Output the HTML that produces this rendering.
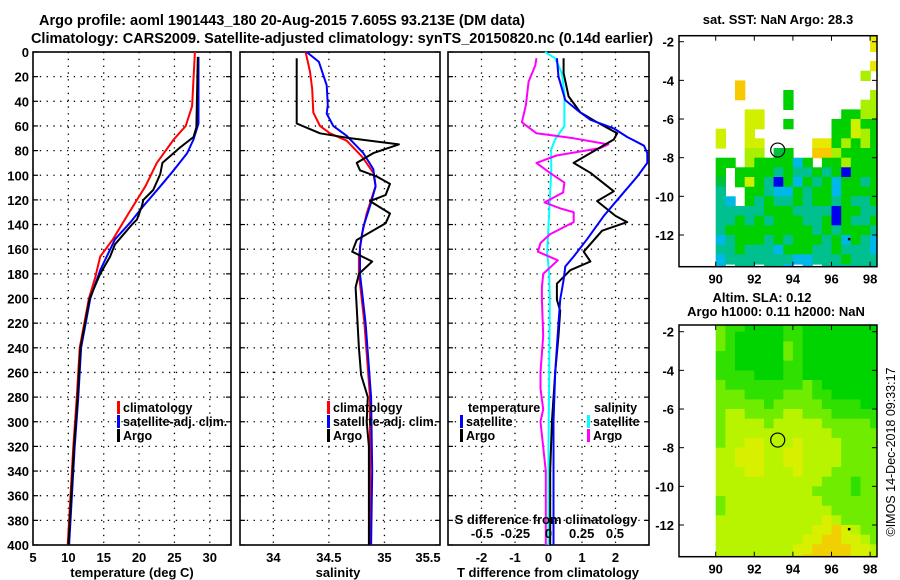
<!DOCTYPE html>
<html><head><meta charset="utf-8"><style>
body{margin:0;background:#fff}
svg{display:block}
text{font-family:"Liberation Sans",sans-serif;font-weight:bold;fill:#000}
</style></head><body>
<svg id="fig" width="900" height="580" viewBox="0 0 900 580" xmlns="http://www.w3.org/2000/svg">
<text x="282" y="25" font-size="14.5" text-anchor="middle">Argo profile: aoml 1901443_180 20-Aug-2015 7.605S 93.213E (DM data)</text>
<text x="342" y="43" font-size="14.5" text-anchor="middle">Climatology: CARS2009. Satellite-adjusted climatology: synTS_20150820.nc (0.14d earlier)</text>
<text x="778" y="24" font-size="13" text-anchor="middle">sat. SST: NaN Argo: 28.3</text>
<text x="762" y="302" font-size="13" text-anchor="middle">Altim. SLA: 0.12</text>
<text x="776" y="316" font-size="13" text-anchor="middle">Argo h1000: 0.11 h2000: NaN</text>
<text transform="translate(895,452) rotate(-90)" font-size="12.5" text-anchor="middle" style="font-weight:normal">©IMOS 14-Dec-2018 09:33:17</text>
<g id="layer"></g>
</svg>
<script>
// ---------- data ----------
const depthTicks = [0,20,40,60,80,100,120,140,160,180,200,220,240,260,280,300,320,340,360,380,400];
const tempTicks = [5,10,15,20,25,30];
const salTicks = [34,34.5,35,35.5];
const tdiffTicks = [-2,-1,0,1,2];
const sdiffTicks = [-0.5,-0.25,0,0.25,0.5];
const sdiffTickLabels = ["-0.5","-0.25","0","0.25","0.5"];

const climTempDepth = [0,44,60,71,90,109,131,152,166,183,200,240,280,320,360,400];
const climTemp      = [27.9,27.5,26.6,24.9,22.5,20.9,18.5,16.3,14.5,13.8,12.9,11.6,11.2,10.7,10.3,9.9];
const satTempDepth  = [4,58,71,82,96,109,125,138,152,177,200,240,280,320,360,400];
const satTemp       = [28.4,28.4,27.7,26.8,24.9,23.0,20.6,18.8,16.6,14.5,13.1,11.8,11.4,10.9,10.5,10.1];
const argoTempDepth = [4,61,69,77,90,99,112,120,125,136,140,156,166,180,200,240,280,320,360,400];
const argoTemp      = [28.3,28.1,27.7,25.9,23.3,23.0,22.0,20.6,20.4,19.7,19.0,16.6,15.9,14.5,13.0,11.7,11.3,10.8,10.4,10.0];

const climSalDepth = [0,16,30,49,60,66,72,85,98,109,120,131,147,166,180,220,280,340,400];
const climSal      = [34.29,34.33,34.35,34.36,34.42,34.51,34.66,34.80,34.90,34.92,34.88,34.84,34.80,34.77,34.77,34.82,34.87,34.87,34.87];
const satSalDepth  = [0,8,27,43,50,60,68,82,95,109,125,142,158,180,220,280,340,400];
const satSal       = [34.30,34.41,34.48,34.49,34.48,34.54,34.66,34.81,34.90,34.92,34.87,34.81,34.78,34.78,34.83,34.88,34.89,34.88];
const argoSalDepth = [5,58,66,69.5,75,82,90,96,101,107,116,121,131,139,152.5,162,170,180,191,207,240,262,280,300,320,400];
const argoSal      = [34.21,34.21,34.42,34.66,35.13,34.90,34.75,34.78,34.93,35.05,35.01,34.87,35.05,35.01,34.75,34.71,34.89,34.77,34.74,34.75,34.77,34.79,34.85,34.84,34.86,34.86];

const argoTdiffDepth = [5,17,36,49,57,66,71,90,98,113,121,133,138,145,162,170,177,188,201,210,230,260,300,340,400];
const argoTdiff      = [0.45,0.45,0.6,0.95,1.45,2.05,1.95,0.75,1.25,1.95,1.45,2.0,2.35,1.6,1.05,1.25,0.65,0.25,0.25,0.35,0.3,0.2,0.1,0.05,0.05];
const satTdiffDepth  = [5,20,39,47,55,62,69,76,82,90,101,117,133,152,166,174,185,201,220,260,300,400];
const satTdiff       = [0.25,0.3,0.5,0.85,1.25,1.95,2.35,2.85,2.95,2.95,2.65,2.15,1.65,1.15,0.75,0.5,0.45,0.35,0.3,0.2,0.15,0.15];
const satSdiffDepth  = [0,5,17,33,60,71,79,98,120,141,163,180,201,260,320,400];
const satSdiff       = [-0.026,0.05,0.1,0.12,0.12,0.05,0.02,0.02,0.01,0,-0.01,0.005,0.01,0.005,0,0];
const argoSdiffDepth = [5,11,24,43,57,66,70,75,78,84,90,98,106,114,122,127,130,138,148,155,162,169,180,191,201,230,260,273,290,300,340,400];
const argoSdiff      = [-0.09,-0.1,-0.15,-0.17,-0.2,-0.09,0.19,0.45,0.39,0.06,-0.09,0.01,0.12,0.11,-0.03,0.09,0.19,0.19,0.01,-0.06,-0.08,0.07,-0.04,-0.05,-0.05,-0.04,-0.06,-0.06,-0.04,-0.06,-0.02,-0.02];

// Map rasters (0.5 deg cells, columns start at 88E, rows start at 1.5S)
const sstRows = [
"....................y","....................y",".....................","....................y",
"...................l.","......o..............","......o....g........l","...........g.......ll",
".......LL........ggll",".......LL..g....ggLgg","....L..L........ggLlg","....L..LL.....yyglglg",
".......ll.Gg..oolgggg","....gg.lggggcg.gglggg","....g.ggggtgttgtgbggg","....G.gLgtbgcgtgcggtg",
"....t..ggtccgtggcgggg","....tc.gtgttgtggtgttg","....tttttgggttttbggtt","....ttgtgtgggttgbgttg",
"....tgggggggggtgtgggt","....ctgggtgtgggtgcgtc","....ttgtttcgggttgtttc","....ctttttttcctttgttt","....c.tt.ttc.c.tttttt"];
const slaRows = [
"....LGGDDDDGGDDDDDDDD","....LGDDDDDGGDDDDDDDD","....LGDDDDDLGDDDDDDDD","....GGDDDDDLGDDDDDDDD",
"....GGDDDDDGGDDDDDDDD","....GGGGDDDGGDDDDDDDD","....LGGGGGGGGLGDDDDDD","....LLLGGGGLLLGGDDDDD",
"....LLLLLGLLLLLGGGGDD","....LYYLLLLYYLLLGGGGG","....LYYYYLYYYYYLLLLLG","....LYYYYYYYYYYYLLLLL",
"....LYYUUYYYUYYYYLLLL","....YYUUUYYUUYYYYLLLL","....YYUUUYYUUYYYYLLLL","....YYYUUYYYUYYYLLLLL",
"....YYYYYYYYYYYLLLGLL","....YYYYYYYYYYLLLLGLL","....LYYYYYYYYYYLLLLLL","....LYYYYYYYYYYYLLLLL",
"....YYYYYYYYYYYUYLLLL","....YYYYYYYYYYUUOUYLL","....YYYYYYYYYUUOOUUYL","....YYYYYYYYUUOOOOUUY","....YYYYYYYYUOOOOOUUY"];
const mapLonTicks = [90,92,94,96,98];
const mapLatTicks = [-2,-4,-6,-8,-10,-12];
const floatLon = 93.213, floatLat = -7.605;

// ---------- drawing ----------
const NS = "http://www.w3.org/2000/svg";
const layer = document.getElementById('layer');
function mk(tag, attrs, parent){ const e=document.createElementNS(NS,tag); for(const k in attrs) e.setAttribute(k,attrs[k]); (parent||layer).appendChild(e); return e; }

const Y0=52, Y1=545;
const yD = d => Y0 + (d/400)*(Y1-Y0);

function panel(name, x0, x1, xmin, xmax, xticks, xlabels, showY){
  const sx = v => x0 + (v-xmin)/(xmax-xmin)*(x1-x0);
  const g = mk('g',{});
  
  
  xticks.forEach((t,i)=>{
    const x=sx(t);
    if(x>x0+1 && x<x1-1){
      const gl=mk('line',{x1:x,x2:x,y1:Y0,y2:Y1,stroke:'#000','stroke-width':1.3,'stroke-dasharray':'1.3 5.5'},g);
      
      
    }
    if(xlabels){
      const tx=mk('text',{x:x,y:562,'font-size':13,'text-anchor':'middle'},g);
      tx.textContent = xlabels[i];
      
      
    }
  });
  depthTicks.forEach(d=>{
    const y=yD(d);
    if(d>0 && d<400){
      const gl=mk('line',{x1:x0,x2:x1,y1:y,y2:y,stroke:'#000','stroke-width':1.3,'stroke-dasharray':'1.3 5.5'},g);
      
      
    }
    mk('line',{x1:x0,x2:x0+5,y1:y,y2:y,stroke:'#000','stroke-width':1.2},g);
    mk('line',{x1:x1-5,x2:x1,y1:y,y2:y,stroke:'#000','stroke-width':1.2},g);
    if(showY){
      const tx=mk('text',{x:29,y:y+5,'font-size':13,'text-anchor':'end'},g);
      tx.textContent=d;
      
      
    }
  });
  const fr=mk('rect',{x:x0,y:Y0,width:x1-x0,height:Y1-Y0,fill:'none',stroke:'#000','stroke-width':1.6},g);
  
  
  return sx;
}
function series(name, sx, vals, depths, color, w){
  const pts = vals.map((v,i)=>sx(v).toFixed(1)+','+yD(depths[i]).toFixed(1)).join(' ');
  const p=mk('polyline',{points:pts,fill:'none',stroke:color,'stroke-width':w,'stroke-linejoin':'round'});
  
  
}
function label(name, x, y, txt, size, anchor){
  const t=mk('text',{x:x,y:y,'font-size':size||13,'text-anchor':anchor||'start'});
  t.textContent=txt;
  
  
}
function legendEntry(name, x, y, color, txt){
  const r=mk('rect',{x:x,y:y-11,width:3,height:13,fill:color});
  
  
  const t=mk('text',{x:x+6,y:y,'font-size':12.5,textLength:undefined});
  t.removeAttribute('textLength');
  t.textContent=txt;
  
  
}

// Panel 1 temperature
const sxT = panel('temperature-panel', 33, 231, 5, 33, tempTicks, tempTicks.map(String), true);
series('climatology-temp-line', sxT, climTemp, climTempDepth, '#ff0000', 2);
series('satellite-adj-temp-line', sxT, satTemp, satTempDepth, '#0000ff', 2);
series('argo-temp-line', sxT, argoTemp, argoTempDepth, '#000', 2);
label('temperature-x-axis-title', 132, 577, 'temperature (deg C)', 13, 'middle');
legendEntry('legend-climatology', 117, 412, '#ff0000', 'climatology');
legendEntry('legend-satellite-adj', 117, 426, '#0000ff', 'satellite-adj. clim.');
legendEntry('legend-argo', 117, 440, '#000', 'Argo');

// Panel 2 salinity
const sxS = panel('salinity-panel', 240, 440, 33.7, 35.5, salTicks, null, false);
salTicks.forEach((t,i)=>{ label('salinity-tick-label', Math.min(sxS(t), 428), 562, String(t), 13, 'middle'); });
series('climatology-sal-line', sxS, climSal, climSalDepth, '#ff0000', 2);
series('satellite-adj-sal-line', sxS, satSal, satSalDepth, '#0000ff', 2);
series('argo-sal-line', sxS, argoSal, argoSalDepth, '#000', 2);
label('salinity-x-axis-title', 338, 577, 'salinity', 13, 'middle');
legendEntry('legend-climatology-2', 327, 412, '#ff0000', 'climatology');
legendEntry('legend-satellite-adj-2', 327, 426, '#0000ff', 'satellite-adj. clim.');
legendEntry('legend-argo-2', 327, 440, '#000', 'Argo');

// Panel 3 differences
const sxD = panel('difference-panel', 448, 649, -3, 3, tdiffTicks, tdiffTicks.map(String), false);
const sxSD = v => 548.5 + v*132.8;
series('satellite-sal-diff-line', sxSD, satSdiff, satSdiffDepth, '#00ffff', 2);
series('argo-sal-diff-line', sxSD, argoSdiff, argoSdiffDepth, '#ff00ff', 2);
series('argo-temp-diff-line', sxD, argoTdiff, argoTdiffDepth, '#000', 2);
series('satellite-temp-diff-line', sxD, satTdiff, satTdiffDepth, '#0000ff', 2);
label('s-diff-axis-title', 546, 524, 'S difference from climatology', 13, 'middle');
sdiffTicks.forEach((t,i)=>label('s-diff-tick-label', sxSD(t), 538, sdiffTickLabels[i], 13, 'middle'));
label('t-diff-axis-title', 548, 577, 'T difference from climatology', 13, 'middle');
label('legend-temperature-heading', 468, 412, 'temperature', 12.5);
legendEntry('legend-temp-satellite', 460, 426, '#0000ff', 'satellite');
legendEntry('legend-temp-argo', 460, 440, '#000', 'Argo');
label('legend-salinity-heading', 594, 412, 'salinity', 12.5);
legendEntry('legend-sal-satellite', 587, 426, '#00ffff', 'satellite');
legendEntry('legend-sal-argo', 587, 440, '#ff00ff', 'Argo');

// Maps
const mapX0=679, mapX1=877;
const lonX = lon => 715.7 + (lon-90)*19.3;
const sstColors = {y:'#e8e800',o:'#f8c800',l:'#a8f000',L:'#d0f000',g:'#00d000',G:'#00c040',t:'#00c090',c:'#00b8e8',b:'#0000f0'};
const slaColors = {D:'#00d400',G:'#30e000',L:'#70ec00',Y:'#b8f400',U:'#d8f000',O:'#f0d000'};
function drawMap(name, top, bottom, latY, rows, colors){
  const g=mk('g',{});
  
  
  const cid='clip-'+name;
  const cp=mk('clipPath',{id:cid},g);
  mk('rect',{x:mapX0,y:top,width:mapX1-mapX0,height:bottom-top},cp);
  const cg=mk('g',{'clip-path':'url(#'+cid+')'},g);
  rows.forEach((row,r)=>{
    for(let c=0;c<row.length;c++){
      const ch=row[c]; if(!colors[ch]) continue;
      const lon=88+c*0.5, lat=-1.5-r*0.5;
      const x=lonX(lon), y=latY(lat);
      mk('rect',{x:x.toFixed(1),y:y.toFixed(1),width:(19.3*0.5+0.6).toFixed(1),height:(19.33*0.5+0.6).toFixed(1),fill:colors[ch]},cg);
    }
  });
  const circ=mk('circle',{cx:lonX(floatLon),cy:latY(floatLat),r:7,fill:'none',stroke:'#000','stroke-width':1.2},g);
  
  
  mk('rect',{x:lonX(96.85),y:latY(-12.15),width:2.5,height:2.5,fill:'#000'},g);
  mapLonTicks.forEach(lon=>{
    const x=lonX(lon);
    mk('line',{x1:x,x2:x,y1:top,y2:top+5,stroke:'#000'},g);
    mk('line',{x1:x,x2:x,y1:bottom-5,y2:bottom,stroke:'#000'},g);
    const t=mk('text',{x:x,y:bottom+17,'font-size':13,'text-anchor':'middle'},g);
    t.textContent=lon;
    
    
  });
  mapLatTicks.forEach(lat=>{
    const y=latY(lat);
    mk('line',{x1:mapX0,x2:mapX0+5,y1:y,y2:y,stroke:'#000'},g);
    mk('line',{x1:mapX1-5,x2:mapX1,y1:y,y2:y,stroke:'#000'},g);
    const t=mk('text',{x:674,y:y+5,'font-size':13,'text-anchor':'end'},g);
    t.textContent=lat;
    
    
  });
  mk('rect',{x:mapX0,y:top,width:mapX1-mapX0,height:bottom-top,fill:'none',stroke:'#000','stroke-width':1.5},g);
}
drawMap('sst-map', 35.7, 266.7, lat => 41.7 + (-2-lat)*19.33, sstRows, sstColors);
drawMap('sla-map', 325, 556.7, lat => 331.7 + (-2-lat)*19.33, slaRows, slaColors);
</script>
</body></html>
